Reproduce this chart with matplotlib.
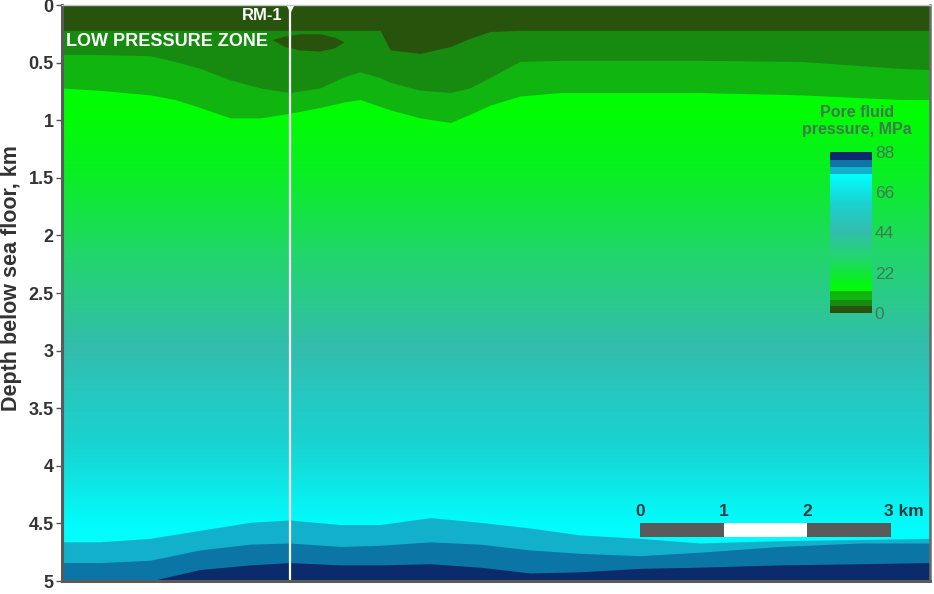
# seccion de presion de poro (pore fluid pressure) vs profundidad

import numpy as np
import matplotlib
matplotlib.use('Agg')
import matplotlib.pyplot as plt
from matplotlib.colors import LinearSegmentedColormap, Normalize
from matplotlib.cm import ScalarMappable
from matplotlib.patches import Rectangle

plt.rcParams['font.family'] = ['Liberation Sans', 'DejaVu Sans']

# escala de colores (MPa)
cb_niveles = [0, 3.6, 3.61, 7.3, 7.31, 11.8, 11.81, 18, 30, 45, 60, 76, 76.1, 79.8, 79.81, 83.8, 83.81, 88]
cb_colores = ['#28530d', '#28530d', '#178b10', '#178b10', '#10b510', '#10b510', '#00ff00', '#08f020',
              '#22d66c', '#33bdae', '#1ad2d0', '#00ffff', '#13b0cc', '#13b0cc', '#0b76a6', '#0b76a6',
              '#0b2b6c', '#0b2b6c']
cb_ticks = [0, 22, 44, 66, 88]

# perfil de presion con la profundidad (km, MPa)
perfil_z = [0.0, 0.5, 1.0, 1.5, 2.0, 2.5, 3.0, 3.5, 4.0, 4.5, 5.0]
perfil_p = [12, 12, 13, 19, 27, 36, 45.5, 55, 64, 75, 76]

# contornos de la parte superior (x en km, profundidad en km)
x_sup = [0.00, 0.45, 1.05, 1.35, 1.65, 2.01, 2.37, 2.72, 3.08, 3.38, 3.56, 3.80,
         3.92, 4.28, 4.64, 4.87, 5.11, 5.47, 5.95, 6.43, 7.62, 8.82, 10.01, 10.37]
z_p3 = [0.22, 0.22, 0.22, 0.22, 0.22, 0.22, 0.22, 0.22, 0.22, 0.22, 0.22, 0.22,
        0.39, 0.42, 0.36, 0.29, 0.23, 0.22, 0.22, 0.22, 0.22, 0.22, 0.22, 0.22]
z_p7 = [0.43, 0.43, 0.44, 0.49, 0.55, 0.65, 0.72, 0.76, 0.72, 0.62, 0.58, 0.63,
        0.67, 0.74, 0.76, 0.72, 0.63, 0.49, 0.48, 0.48, 0.48, 0.49, 0.55, 0.56]
z_p12 = [0.72, 0.74, 0.78, 0.82, 0.89, 0.98, 0.98, 0.94, 0.89, 0.84, 0.82, 0.88,
         0.91, 0.98, 1.02, 0.95, 0.87, 0.79, 0.76, 0.76, 0.76, 0.78, 0.82, 0.82]

# lente de baja presion
x_lente = [2.51, 2.66, 2.84, 3.08, 3.26, 3.37]
z_lente_top = [0.30, 0.27, 0.25, 0.25, 0.28, 0.32]
z_lente_bot = [0.30, 0.36, 0.39, 0.40, 0.37, 0.32]

# contornos de la parte inferior
x_inf = [0, 0.45, 1.05, 1.65, 2.25, 2.72, 3.32, 3.80, 4.40, 4.99, 5.59, 6.19, 6.91, 7.62, 8.58, 9.53, 10.37]
z_p76 = [4.66, 4.66, 4.63, 4.56, 4.49, 4.47, 4.51, 4.51, 4.45, 4.49, 4.54, 4.60, 4.63, 4.67, 4.65, 4.64, 4.63]
z_p80 = [4.84, 4.84, 4.82, 4.73, 4.68, 4.67, 4.70, 4.69, 4.66, 4.68, 4.73, 4.76, 4.78, 4.75, 4.70, 4.67, 4.67]
z_p84 = [5.0, 5.0, 5.0, 4.90, 4.86, 4.84, 4.86, 4.86, 4.85, 4.88, 4.93, 4.92, 4.89, 4.88, 4.86, 4.85, 4.84]

ancho = 10.37
pozo_x = 2.72
escala_km = [0, 1, 2, 3]

cmap = LinearSegmentedColormap.from_list('poro', list(zip(np.array(cb_niveles) / 88.0, cb_colores)), N=2048)
norm = Normalize(0, 88)

fig = plt.figure(figsize=(9.34, 5.94), dpi=100)
ax = fig.add_axes([62 / 934, 1 - 581 / 594, 868 / 934, 576 / 594])

# fondo con el gradiente
campo = np.column_stack([perfil_p, perfil_p])
dz = (perfil_z[1] - perfil_z[0]) / 2
ax.imshow(campo, extent=[0, ancho, perfil_z[-1] + dz, perfil_z[0] - dz], cmap=cmap, norm=norm,
          aspect='auto', interpolation='bilinear', interpolation_stage='data')

# bandas discretas arriba
ax.fill_between(x_sup, 0, z_p12, color=cmap(norm(9.5)), lw=0)
ax.fill_between(x_sup, 0, z_p7, color=cmap(norm(5.5)), lw=0)
ax.fill_between(x_sup, 0, z_p3, color=cmap(norm(1.8)), lw=0)
ax.fill_between(x_lente, z_lente_top, z_lente_bot, color=cmap(norm(1.8)), lw=0)

# bandas discretas abajo
ax.fill_between(x_inf, z_p76, 5.1, color=cmap(norm(78)), lw=0)
ax.fill_between(x_inf, z_p80, 5.1, color=cmap(norm(82)), lw=0)
ax.fill_between(x_inf, z_p84, 5.1, color=cmap(norm(86)), lw=0)

ax.set_xlim(0, ancho)
ax.set_ylim(5, 0)

# pozo RM-1
ax.plot([pozo_x, pozo_x], [0, 4.98], color='white', lw=1.6)
ax.plot(pozo_x, 0.015, marker='v', color='white', ms=6, clip_on=False)
ax.text(pozo_x - 0.08, 0.095, 'RM-1', ha='right', va='center', color='white',
        fontsize=12, fontweight='bold')
ax.text(0.05, 0.32, 'LOW PRESSURE ZONE', ha='left', va='center', color='white',
        fontsize=13, fontweight='bold')

# barra de escala
x0 = 6.905
ax.add_patch(Rectangle((x0 + escala_km[0], 4.50), escala_km[-1] - escala_km[0], 0.12, fc='#5a5a5a', ec='none'))
ax.add_patch(Rectangle((x0 + escala_km[1], 4.50), escala_km[2] - escala_km[1], 0.12, fc='white', ec='none'))
for k in escala_km[:-1]:
    ax.text(x0 + k, 4.40, str(k), ha='center', va='center', fontsize=12.5, fontweight='bold', color='#2b3a3f')
ax.text(x0 + escala_km[-1] - 0.08, 4.40, '%d km' % escala_km[-1], ha='left', va='center',
        fontsize=12.5, fontweight='bold', color='#2b3a3f')

# ejes
ax.set_xticks([])
ax.set_yticks([0, 0.5, 1, 1.5, 2, 2.5, 3, 3.5, 4, 4.5, 5])
ax.set_yticklabels(['0', '0.5', '1', '1.5', '2', '2.5', '3', '3.5', '4', '4.5', '5'],
                   fontsize=13, fontweight='bold', color='#333333')
ax.tick_params(axis='y', length=4, width=1, color='#555555', pad=2)
ax.spines['left'].set_linewidth(2.2)
ax.spines['left'].set_color('#5a5a5a')
ax.spines['bottom'].set_linewidth(2.2)
ax.spines['bottom'].set_color('#5a5a5a')
ax.spines['right'].set_linewidth(1.8)
ax.spines['right'].set_color('#6a6a6a')
ax.spines['top'].set_linewidth(1)
ax.spines['top'].set_color('#c8c8c8')

fig.text(12 / 934, 1 - 278 / 594, 'Depth below sea floor, km', rotation=90, ha='center', va='center',
         fontsize=15.5, fontweight='bold', color='#333333')

# barra de colores
cax = fig.add_axes([830 / 934, 1 - 313 / 594, 42 / 934, 161 / 594])
cb = fig.colorbar(ScalarMappable(norm=norm, cmap=cmap), cax=cax, ticks=cb_ticks)
cb.outline.set_visible(False)
cax.tick_params(length=0, labelsize=12.5, labelcolor='#3e7a52', pad=2)
fig.text(857 / 934, 1 - 121 / 594, 'Pore fluid\npressure, MPa', ha='center', va='center',
         fontsize=11.5, fontweight='bold', color='#3e7a4a', linespacing=1.15)

fig.savefig('out.png', dpi=100)
